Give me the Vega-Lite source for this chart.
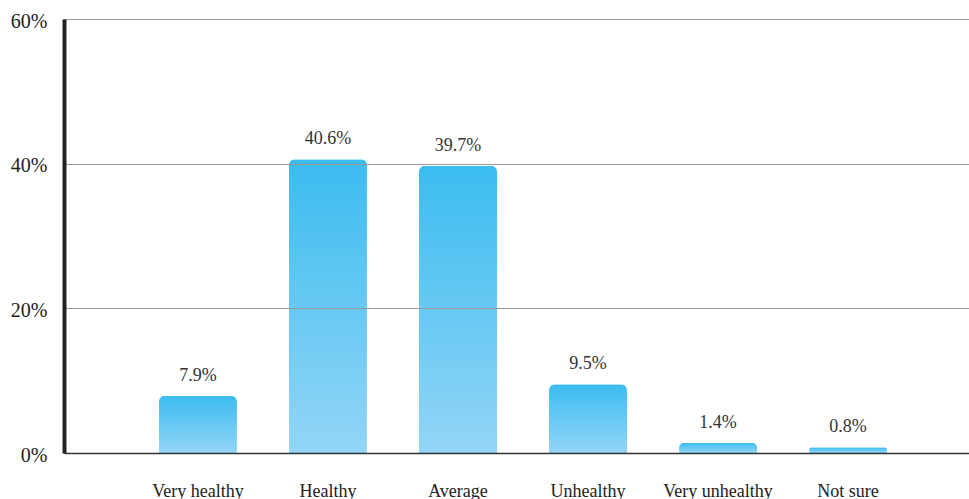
{
  "$schema": "https://vega.github.io/schema/vega-lite/v6.json",
  "autosize": "none",
  "padding": {"left": 64, "top": 19, "right": 0, "bottom": 46},
  "width": 918,
  "height": 434,
  "background": "white",
  "config": {
    "view": {"stroke": null},
    "font": "Liberation Serif",
    "text": {"font": "Liberation Serif"}
  },
  "data": {
    "values": [
      {"category": "Very healthy", "share": 0.079},
      {"category": "Healthy", "share": 0.406},
      {"category": "Average", "share": 0.397},
      {"category": "Unhealthy", "share": 0.095},
      {"category": "Very unhealthy", "share": 0.014},
      {"category": "Not sure", "share": 0.008}
    ]
  },
  "encoding": {
    "x": {
      "field": "category",
      "type": "nominal",
      "sort": null,
      "scale": {"paddingInner": 0.4, "paddingOuter": 0.73},
      "axis": {
        "title": null,
        "labelAngle": 0,
        "labelFont": "Liberation Serif",
        "labelFontSize": 18,
        "labelColor": "#222",
        "labelPadding": 29,
        "ticks": false,
        "domainColor": "#333",
        "domainWidth": 1.5,
        "zindex": 2
      }
    },
    "y": {
      "field": "share",
      "type": "quantitative",
      "scale": {"domain": [0, 0.6], "nice": false},
      "axis": {
        "title": null,
        "values": [0, 0.2, 0.4, 0.6],
        "format": ".0%",
        "labelFont": "Liberation Serif",
        "labelFontSize": 20,
        "labelColor": "#222",
        "labelPadding": 17,
        "labelOffset": 2,
        "ticks": false,
        "domainColor": "#222",
        "domainWidth": 4,
        "gridColor": "#999",
        "gridWidth": 1,
        "zindex": 1
      }
    }
  },
  "layer": [
    {
      "mark": {
        "type": "bar",
        "cornerRadiusTopLeft": 6,
        "cornerRadiusTopRight": 6,
        "color": {
          "gradient": "linear",
          "x1": 0, "y1": 0, "x2": 0, "y2": 1,
          "stops": [
            {"offset": 0, "color": "#3bbcf0"},
            {"offset": 1, "color": "#93d5f6"}
          ]
        }
      }
    },
    {
      "mark": {
        "type": "text",
        "baseline": "alphabetic",
        "dy": -15,
        "fontSize": 18,
        "font": "Liberation Serif",
        "color": "#333"
      },
      "encoding": {
        "text": {"field": "share", "type": "quantitative", "format": ".1%"}
      }
    }
  ]
}
